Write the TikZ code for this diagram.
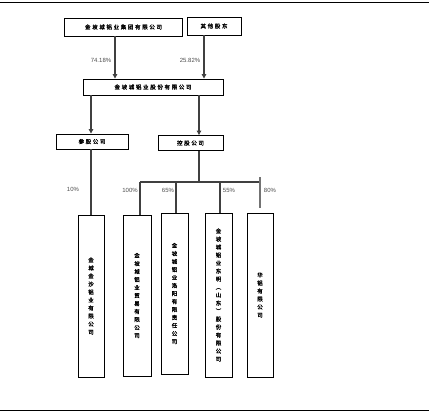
\documentclass[tikz,border=0pt]{standalone}
\usepackage{fontspec}
\setmainfont{Liberation Sans}
\newfontfamily\cjk[LetterSpace=30,FakeBold=1.5]{Noto Sans CJK SC}
\newfontfamily\cjkv[FakeBold=1.5]{Noto Sans CJK SC}
\usetikzlibrary{arrows.meta}
\begin{document}
\begin{tikzpicture}[x=1pt,y=-1pt,
  box/.style={draw=black, line width=0.9pt, inner sep=0pt, align=center,
    font=\cjk\fontsize{5.5}{8}\selectfont},
  vbox/.style={box, font=\cjkv\fontsize{5.5}{8}\selectfont},
  conn/.style={draw=black!75, line width=1.1pt},
  arr/.style={conn, -{Triangle[length=4.5pt,width=4.5pt]}},
  stub/.style={draw=black!55, line width=1.6pt},
  pct/.style={font=\fontsize{6}{7}\selectfont, text=black!70, inner sep=0pt},
  rule/.style={draw=black, line width=0.9pt}]
\useasboundingbox (0,0) rectangle (429,415);
\coordinate (r1) at (0,2); \coordinate (r2) at (429,2);
\coordinate (r3) at (0,410); \coordinate (r4) at (429,410);
\draw[rule] (r1) -- (r2);
\draw[rule] (r3) -- (r4);

\node[box, minimum width=118pt, minimum height=18pt] (A) at (123.5,27) {金坡城铝业集团有限公司};
\node[box, minimum width=54pt, minimum height=18pt] (B) at (214,26) {其他股东};
\node[box, minimum width=140pt, minimum height=16pt] (C) at (153,87) {金坡城铝业股份有限公司};
\node[box, minimum width=72pt, minimum height=15pt] (D) at (92,141.5) {参股公司};
\node[box, minimum width=65pt, minimum height=15pt] (E) at (190.5,143) {控股公司};

\node[vbox, minimum width=26pt, minimum height=162pt] (b1) at (91,296)
  {金\\城\\金\\沙\\铝\\业\\有\\限\\公\\司};
\node[vbox, minimum width=28pt, minimum height=161pt] (b2) at (137,295.5)
  {金\\坡\\城\\铝\\业\\贸\\易\\有\\限\\公\\司};
\node[vbox, minimum width=27pt, minimum height=161pt] (b3) at (174.5,293.5)
  {金\\坡\\城\\铝\\业\\洛\\阳\\有\\限\\责\\任\\公\\司};
\node[vbox, minimum width=27pt, minimum height=164pt] (b4) at (218.5,295)
  {金\\坡\\城\\铝\\业\\东\\明\\︵\\山\\东\\︶\\股\\份\\有\\限\\公\\司};
\node[vbox, minimum width=26pt, minimum height=164pt] (b5) at (260,295)
  {华\\铝\\有\\限\\公\\司};

\coordinate (xa) at (115,0);
\coordinate (xb) at (204,0);
\coordinate (xd) at (91,0);
\coordinate (xe) at (199,0);
\coordinate (h2) at (140,182);
\coordinate (h3) at (176,182);
\coordinate (h4) at (220,182);
\coordinate (h5) at (260,182);
\coordinate (s1) at (260,177);
\coordinate (s2) at (260,208);

\draw[arr] (A.south -| xa) -- (C.north -| xa);
\draw[arr] (B.south -| xb) -- (C.north -| xb);
\draw[arr] (C.south -| xd) -- (D.north -| xd);
\draw[arr] (C.south -| xe) -- (E.north -| xe);
\draw[conn] (D.south -| xd) -- (b1.north -| xd);
\draw[conn] (E.south -| xe) -- (xe |- h2);
\draw[conn] (h2) -- (h5);
\draw[conn] (h2) -- (h2 |- b2.north);
\draw[conn] (h3) -- (h3 |- b3.north);
\draw[conn] (h4) -- (h4 |- b4.north);
\draw[stub] (s1) -- (s2);

\node[pct] (p1) at (101,60) {74.18\%};
\node[pct] (p2) at (190,60) {25.82\%};
\node[pct] (p3) at (73,189) {10\%};
\node[pct] (p4) at (130,190) {100\%};
\node[pct] (p5) at (168,190) {65\%};
\node[pct] (p6) at (229,190) {55\%};
\node[pct] (p7) at (270,190) {80\%};
\end{tikzpicture}
\end{document}
